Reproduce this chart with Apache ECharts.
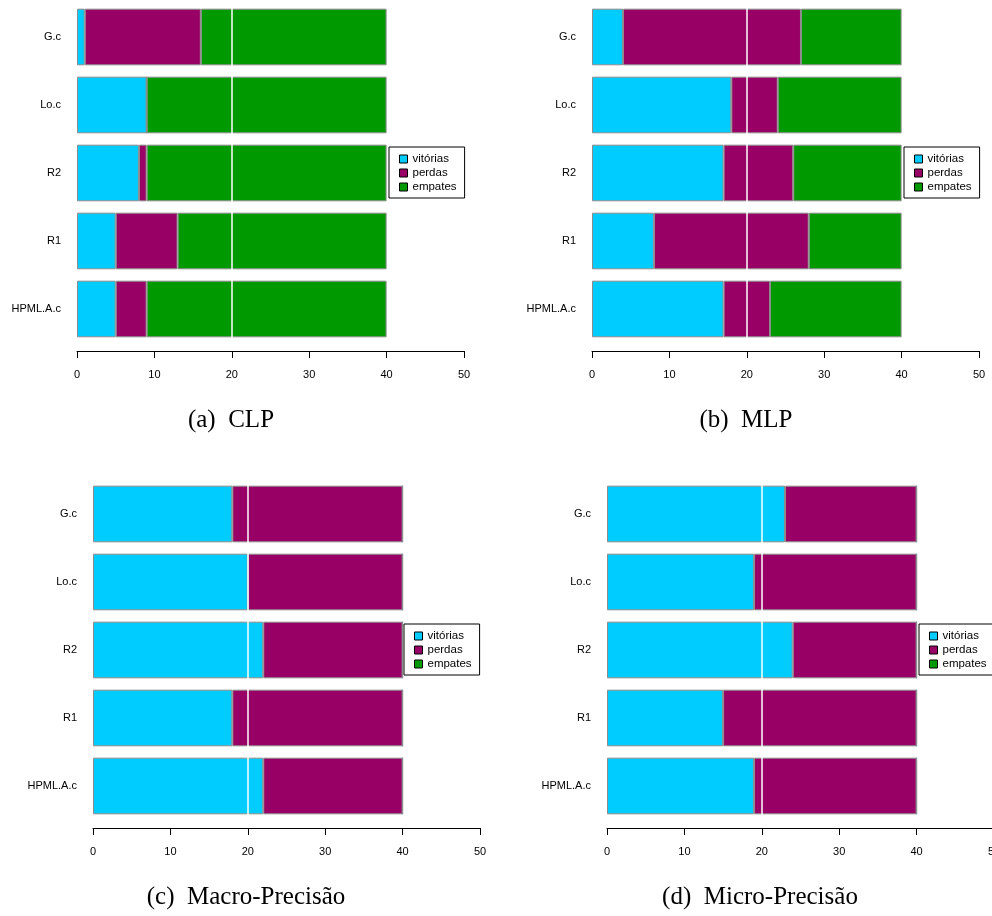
<!DOCTYPE html>
<html>
<head>
<meta charset="utf-8">
<script src="https://cdn.jsdelivr.net/npm/echarts@6/dist/echarts.min.js"></script>
<style>
    body { margin: 0; background: #fff; overflow: hidden; }
    /* um pouco mais largo que a janela: o painel (d) passa da borda */
    #container { width: 1004px; height: 916px; }
</style>
</head>
<body>
<div id="container"></div>
<script type="text/javascript">
    // categorias (de baixo para cima)
    var categories = ['HPML.A.c', 'R1', 'R2', 'Lo.c', 'G.c'];
    var seriesNames = ['vitórias', 'perdas', 'empates'];
    var xTicks = [0, 10, 20, 30, 40, 50];
    var captions = ['(a)  CLP', '(b)  MLP', '(c)  Macro-Precisão', '(d)  Micro-Precisão'];

    // (a) CLP
    var clpVit = [5, 5, 8, 9, 1];
    var clpPerd = [4, 8, 1, 0, 15];
    var clpEmp = [31, 27, 31, 31, 24];
    // (b) MLP
    var mlpVit = [17, 8, 17, 18, 4];
    var mlpPerd = [6, 20, 9, 6, 23];
    var mlpEmp = [17, 12, 14, 16, 13];
    // (c) Macro-Precisão
    var macroVit = [22, 18, 22, 20, 18];
    var macroPerd = [18, 22, 18, 20, 22];
    var macroEmp = [0, 0, 0, 0, 0];
    // (d) Micro-Precisão
    var microVit = [19, 15, 24, 19, 23];
    var microPerd = [21, 25, 16, 21, 17];
    var microEmp = [0, 0, 0, 0, 0];

    var panels = [
        [clpVit, clpPerd, clpEmp],
        [mlpVit, mlpPerd, mlpEmp],
        [macroVit, macroPerd, macroEmp],
        [microVit, microPerd, microEmp]
    ];

    var colors = ['#00CCFF', '#990066', '#009900'];
    var font = "'Liberation Sans', Arial, sans-serif";

    // posição de cada painel
    var boxes = [
        {left: 77, top: 3, legendLeft: 389, legendTop: 147, capX: 231, capY: 420},
        {left: 592, top: 3, legendLeft: 904, legendTop: 147, capX: 746, capY: 420},
        {left: 93, top: 480, legendLeft: 404, legendTop: 624, capX: 246, capY: 897},
        {left: 607, top: 480, legendLeft: 919, legendTop: 624, capX: 760, capY: 897}
    ];

    var grid = [], xAxis = [], yAxis = [], series = [], legend = [], graphic = [];

    boxes.forEach(function (b, i) {
        grid.push({left: b.left, top: b.top, width: 387, height: 340});
        xAxis.push({
            type: 'value',
            gridIndex: i,
            min: xTicks[0],
            max: xTicks[xTicks.length - 1],
            interval: 10,
            offset: 8,
            splitLine: {show: false},
            axisLine: {show: true, lineStyle: {color: '#000', width: 1}},
            axisTick: {show: true, length: 7, lineStyle: {color: '#000'}},
            axisLabel: {fontSize: 11, color: '#000', fontFamily: font, margin: 18}
        });
        yAxis.push({
            type: 'category',
            gridIndex: i,
            data: categories,
            axisLine: {show: false},
            axisTick: {show: false},
            axisLabel: {fontSize: 11, color: '#000', fontFamily: font, margin: 16}
        });
        panels[i].forEach(function (vals, k) {
            var s = {
                name: seriesNames[k],
                type: 'bar',
                xAxisIndex: i,
                yAxisIndex: i,
                stack: 'p' + i,
                barCategoryGap: '16.7%',
                data: vals,
                silent: true,
                itemStyle: {color: colors[k], borderColor: '#8c8c8c', borderWidth: 1}
            };
            // linha branca em 20
            if (k == 2) {
                s.markLine = {
                    silent: true,
                    symbol: 'none',
                    label: {show: false},
                    lineStyle: {color: '#fff', width: 1.5, type: 'solid'},
                    data: [{xAxis: 20}]
                };
            }
            series.push(s);
        });
        legend.push({
            data: seriesNames,
            orient: 'vertical',
            left: b.legendLeft,
            top: b.legendTop,
            icon: 'rect',
            itemWidth: 8,
            itemHeight: 8,
            itemGap: 2,
            padding: [6, 8, 5, 10],
            backgroundColor: '#fff',
            borderColor: '#000',
            borderWidth: 1,
            borderRadius: 0,
            selectedMode: false,
            itemStyle: {borderColor: '#000', borderWidth: 1},
            textStyle: {fontSize: 11.5, lineHeight: 11, color: '#000', fontFamily: font}
        });
        graphic.push({
            type: 'text',
            x: b.capX,
            y: b.capY,
            style: {
                text: captions[i],
                fill: '#000',
                font: "25px 'Liberation Serif', 'Times New Roman', serif",
                textAlign: 'center',
                textVerticalAlign: 'middle'
            }
        });
    });

    var myChart = echarts.init(document.getElementById('container'));
    myChart.setOption({
        animation: false,
        backgroundColor: '#fff',
        grid: grid,
        xAxis: xAxis,
        yAxis: yAxis,
        legend: legend,
        graphic: graphic,
        series: series
    });
</script>
</body>
</html>
